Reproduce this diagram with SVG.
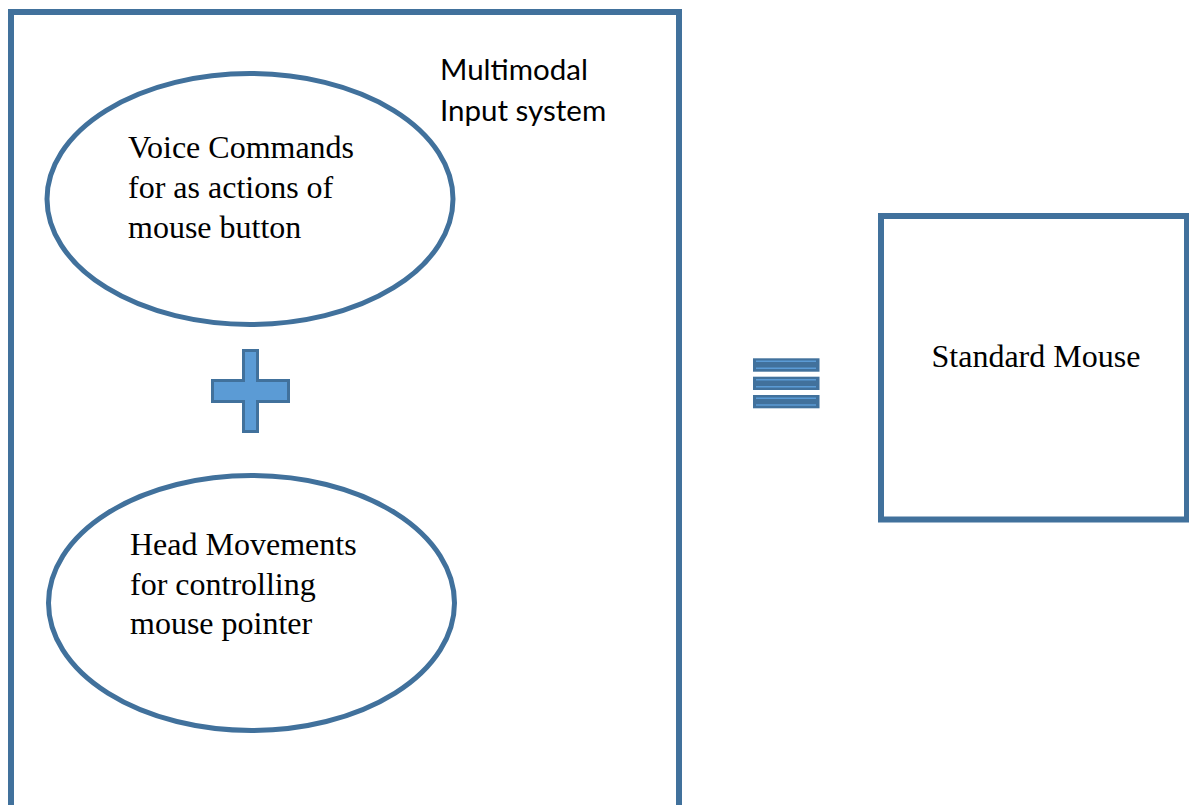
<svg xmlns="http://www.w3.org/2000/svg" width="1189" height="805" viewBox="0 0 1189 805">
<style>
.frame{fill:#ffffff;stroke:#41719C;stroke-width:6}
.oval{fill:#ffffff;stroke:#41719C;stroke-width:5}
.serif{font-family:"Liberation Serif","Times New Roman",serif;font-size:32px;fill:#000000}
.sans{font-family:Lato,"Liberation Sans",sans-serif;font-size:29.5px;fill:#000000}
.plus{fill:#5B9BD5;stroke:#41719C;stroke-width:3;stroke-linejoin:miter}
.bar{fill:#41719C}
.barline{stroke:#5B9BD5;stroke-width:1.6}
</style>
<rect width="1189" height="805" fill="#ffffff"/>
<g id="multimodal-system">
<rect class="frame" x="11" y="12" width="668" height="820"/>
<text class="sans" x="440" y="80">Multimodal</text>
<text class="sans" x="440" y="121">Input system</text>
</g>
<g id="voice-commands">
<ellipse class="oval" cx="250" cy="199" rx="203" ry="125.5"/>
<text class="serif" x="128" y="157.5">Voice Commands</text>
<text class="serif" x="128" y="197.5">for as actions of</text>
<text class="serif" x="128" y="237.5">mouse button</text>
</g>
<g id="plus-sign">
<path class="plus" d="M243.5,350.5 H257.5 V380.5 H288.5 V401.5 H257.5 V431.5 H243.5 V401.5 H212.5 V380.5 H243.5 Z"/>
</g>
<g id="head-movements">
<ellipse class="oval" cx="251.5" cy="603" rx="203" ry="127.5"/>
<text class="serif" x="130" y="555">Head Movements</text>
<text class="serif" x="130" y="594.5">for controlling</text>
<text class="serif" x="130" y="634">mouse pointer</text>
</g>
<g id="equals-sign">
<rect class="bar" x="753" y="358.3" width="66.5" height="13.4"/>
<line class="barline" x1="756" y1="361.3" x2="816" y2="361.3"/>
<line class="barline" x1="756" y1="368.3" x2="816" y2="368.3"/>
<rect class="bar" x="753" y="376.7" width="66.5" height="13.3"/>
<line class="barline" x1="756" y1="379.7" x2="816" y2="379.7"/>
<line class="barline" x1="756" y1="386.7" x2="816" y2="386.7"/>
<rect class="bar" x="753" y="395" width="66.5" height="13.3"/>
<line class="barline" x1="756" y1="398.3" x2="816" y2="398.3"/>
<line class="barline" x1="756" y1="405" x2="816" y2="405"/>
</g>
<g id="standard-mouse">
<rect class="frame" x="881" y="216" width="306" height="303.5"/>
<text class="serif" x="931.5" y="367">Standard Mouse</text>
</g>
<g id="connectors"></g>
</svg>
